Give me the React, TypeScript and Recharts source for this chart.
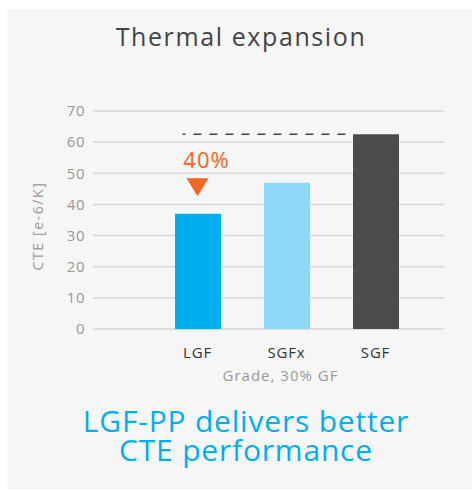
import React from "react";
import {
  BarChart,
  Bar,
  XAxis,
  YAxis,
  CartesianGrid,
  Cell,
  ReferenceLine,
  ReferenceDot,
} from "recharts";

const grades = ["LGF", "SGFx", "SGF"];
const cteValues = [37, 47, 62.5];
const barColors = ["#00aeef", "#8dd7f7", "#4b4c4e"];
const yTicks = [0, 10, 20, 30, 40, 50, 60, 70];
const annotationLabel = "40%";
const annotationGrade = "LGF";

const FONT = "'Open Sans', 'Noto Sans', sans-serif";

const data = grades.map((g, i) => ({ grade: g, cte: cteValues[i] }));

function DashedCap(props: any) {
  const { x1, y1, x2, y2 } = props;
  return (
    <line
      x1={x1 - 15}
      y1={y1}
      x2={x2 - 23}
      y2={y2}
      stroke="#444"
      strokeWidth={1.5}
      strokeDasharray="8 8"
      strokeDashoffset={5}
    />
  );
}

function DropMarker(props: any) {
  const { cx, cy } = props;
  return (
    <g>
      <text
        x={cx + 9}
        y={cy - 19}
        textAnchor="middle"
        fill="#f26522"
        fontSize={22}
        letterSpacing={1}
        fontFamily={FONT}
      >
        {annotationLabel}
      </text>
      <path
        d={`M${cx - 11},${cy - 9} L${cx + 11},${cy - 9} L${cx},${cy + 9} Z`}
        fill="#f26522"
      />
    </g>
  );
}

export default function App() {
  const maxCte = Math.max(...cteValues);
  return (
    <div
      style={{
        position: "absolute",
        left: 7,
        top: 9,
        width: 465,
        height: 480,
        background: "#f6f6f6",
        fontFamily: FONT,
      }}
    >
      <div
        style={{
          position: "absolute",
          left: 0,
          width: 468,
          top: 12,
          textAlign: "center",
          fontSize: 25,
          letterSpacing: 1.6,
          color: "#444",
          lineHeight: "30px",
        }}
      >
        Thermal expansion
      </div>
      <BarChart
        width={465}
        height={480}
        data={data}
        margin={{ top: 102, right: 28, bottom: 100, left: 26 }}
      >
        <CartesianGrid vertical={false} stroke="#d6d6d6" strokeWidth={1.5} />
        <XAxis
          dataKey="grade"
          axisLine={false}
          tickLine={false}
          tickMargin={12}
          height={60}
          padding={{ left: 60, right: 24 }}
          tick={{ fontSize: 15, fill: "#333", fontFamily: FONT, letterSpacing: 0.8 }}
          label={{
            value: "Grade, 30% GF",
            position: "insideBottom",
            offset: 8,
            dx: 12,
            style: { fontSize: 15, fill: "#999", fontFamily: FONT, letterSpacing: 1 },
          }}
        />
        <YAxis
          width={60}
          domain={[0, 70]}
          ticks={yTicks}
          axisLine={false}
          tickLine={false}
          tick={{ fontSize: 15, fill: "#999", fontFamily: FONT, letterSpacing: 0.5 }}
          label={{
            value: "CTE [e-6/K]",
            angle: -90,
            position: "insideLeft",
            offset: 5,
            dy: 6,
            style: {
              textAnchor: "middle",
              fontSize: 14,
              fill: "#999",
              fontFamily: FONT,
              letterSpacing: 1.6,
            },
          }}
        />
        <ReferenceLine
          segment={[
            { x: annotationGrade, y: maxCte },
            { x: grades[grades.length - 1], y: maxCte },
          ]}
          shape={DashedCap}
        />
        <Bar dataKey="cte" barSize={46} isAnimationActive={false}>
          {data.map((d, i) => (
            <Cell key={d.grade} fill={barColors[i]} />
          ))}
        </Bar>
        <ReferenceDot x={annotationGrade} y={45.5} shape={DropMarker} />
      </BarChart>
      <div
        style={{
          position: "absolute",
          left: 0,
          width: 478,
          top: 397,
          textAlign: "center",
          fontSize: 30,
          letterSpacing: 0.8,
          color: "#00aeef",
          lineHeight: "29px",
        }}
      >
        <div>LGF-PP delivers better</div>
        <div>CTE performance</div>
      </div>
    </div>
  );
}
